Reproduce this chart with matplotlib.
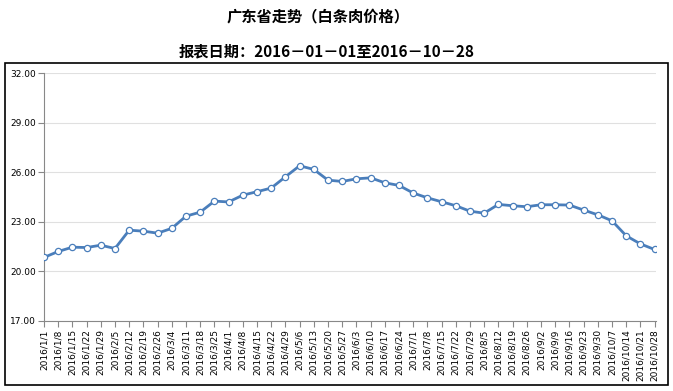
import matplotlib
matplotlib.use("Agg")
import matplotlib.pyplot as plt
from matplotlib.patches import Rectangle
from matplotlib.ticker import FormatStrFormatter

plt.rcParams['font.family'] = ['Noto Sans CJK SC', 'DejaVu Sans']

# 日期标签（每周五）
dates = [
    "2016/1/1", "2016/1/8", "2016/1/15", "2016/1/22", "2016/1/29",
    "2016/2/5", "2016/2/12", "2016/2/19", "2016/2/26", "2016/3/4",
    "2016/3/11", "2016/3/18", "2016/3/25", "2016/4/1", "2016/4/8",
    "2016/4/15", "2016/4/22", "2016/4/29", "2016/5/6", "2016/5/13",
    "2016/5/20", "2016/5/27", "2016/6/3", "2016/6/10", "2016/6/17",
    "2016/6/24", "2016/7/1", "2016/7/8", "2016/7/15", "2016/7/22",
    "2016/7/29", "2016/8/5", "2016/8/12", "2016/8/19", "2016/8/26",
    "2016/9/2", "2016/9/9", "2016/9/16", "2016/9/23", "2016/9/30",
    "2016/10/7", "2016/10/14", "2016/10/21", "2016/10/28",
]

# 白条肉价格
prices = [
    20.85, 21.21, 21.47, 21.45, 21.59, 21.39, 22.50, 22.44, 22.32, 22.61,
    23.35, 23.59, 24.26, 24.21, 24.62, 24.83, 25.05, 25.73, 26.40, 26.18,
    25.53, 25.45, 25.61, 25.67, 25.37, 25.21, 24.75, 24.46, 24.22, 23.98,
    23.65, 23.53, 24.06, 23.98, 23.92, 24.04, 24.04, 24.02, 23.72, 23.43,
    23.07, 22.16, 21.67, 21.33,
]

y_ticks = [17, 20, 23, 26, 29, 32]

title = "广东省走势（白条肉价格）"
subtitle = "报表日期：2016－01－01至2016－10－28"

W, H = 673, 391
fig = plt.figure(figsize=(W / 100, H / 100), dpi=100)

# 外框
fig.patches.append(Rectangle((5 / W, 1 - 385 / H), (668 - 5) / W, (385 - 63) / H,
                             transform=fig.transFigure, fill=False,
                             edgecolor='black', linewidth=1.2))

fig.text(318 / W, 1 - 16 / H, title, ha='center', va='center',
         fontsize=11, fontweight='bold')
fig.text(327 / W, 1 - 51 / H, subtitle, ha='center', va='center',
         fontsize=11, fontweight='bold')

ax = fig.add_axes([44 / W, 1 - 321 / H, (656 - 44) / W, (321 - 73.3) / H])

x = list(range(len(prices)))
ax.plot(x, prices, color='#4a7ebb', linewidth=2, marker='o', markersize=4.5,
        markerfacecolor='white', markeredgecolor='#4a7ebb', markeredgewidth=0.9,
        zorder=3)

ax.set_ylim(17, 32)
ax.set_xlim(0, len(prices) - 0.9)
ax.set_yticks(y_ticks)
ax.yaxis.set_major_formatter(FormatStrFormatter('%.2f'))
ax.set_xticks(x)
ax.set_xticklabels(dates, rotation=90, fontsize=6.5, family=['DejaVu Sans'])
for lab in ax.get_yticklabels():
    lab.set_fontsize(6.5)
    lab.set_family(['DejaVu Sans'])

ax.grid(True, axis='y', color='#e0e0e0', linewidth=0.8)
ax.set_axisbelow(True)
for s in ['top', 'right']:
    ax.spines[s].set_visible(False)
for s in ['left', 'bottom']:
    ax.spines[s].set_color('#888888')
    ax.spines[s].set_linewidth(0.8)
ax.tick_params(axis='both', direction='out', length=4, width=0.8,
               color='#888888', pad=2)

fig.savefig('out.png', dpi=100)
